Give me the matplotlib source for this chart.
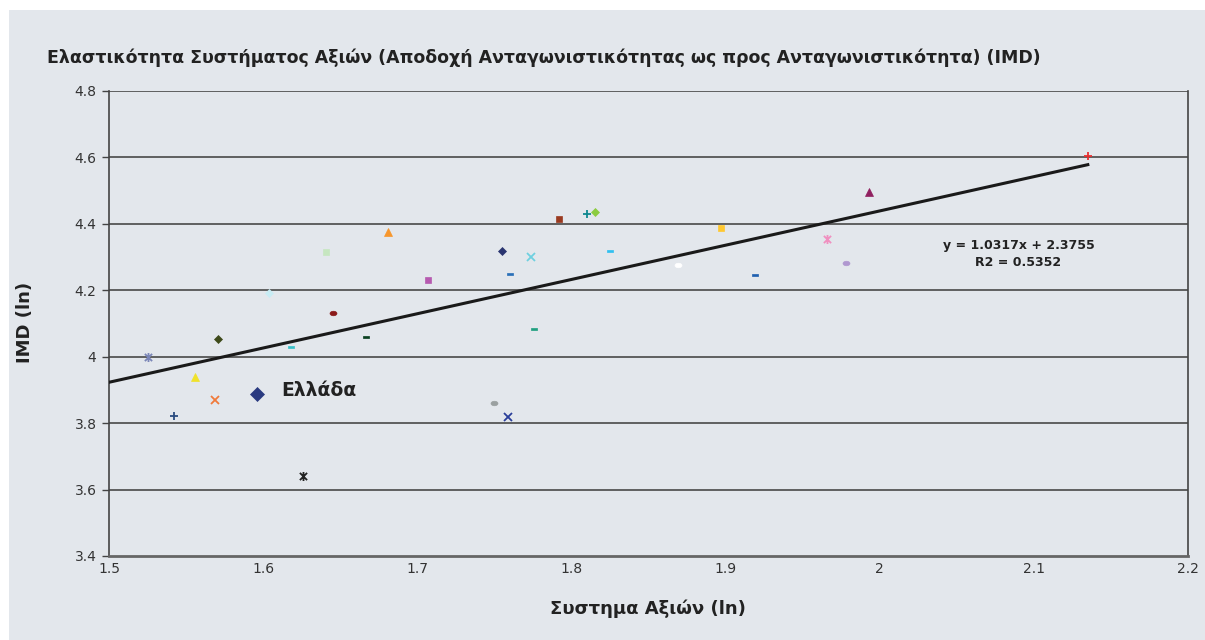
import matplotlib
matplotlib.use("Agg")
import matplotlib.pyplot as plt
import numpy as np
from matplotlib.path import Path

# ---- data ----
x_values = [1.525, 1.542, 1.556, 1.569, 1.571, 1.596, 1.604, 1.618, 1.626, 1.641,
            1.645, 1.667, 1.681, 1.707, 1.755, 1.750, 1.760, 1.759, 1.774, 1.776,
            1.792, 1.810, 1.815, 1.825, 1.869, 1.897, 1.919, 1.966, 1.978, 1.993,
            2.135]
y_values = [4.000, 3.822, 3.939, 3.870, 4.054, 3.888, 4.192, 4.030, 3.641, 4.316,
            4.132, 4.060, 4.376, 4.231, 4.319, 3.861, 4.249, 3.819, 4.301, 4.084,
            4.415, 4.430, 4.436, 4.319, 4.277, 4.388, 4.246, 4.355, 4.283, 4.496,
            4.605]
greece_index = 5
slope = 1.0317
intercept = 2.3755
r2 = 0.5352
x_ticks = [1.5, 1.6, 1.7, 1.8, 1.9, 2.0, 2.1, 2.2]
x_tick_labels = ["1.5", "1.6", "1.7", "1.8", "1.9", "2", "2.1", "2.2"]
y_ticks = [3.4, 3.6, 3.8, 4.0, 4.2, 4.4, 4.6, 4.8]
y_tick_labels = ["3.4", "3.6", "3.8", "4", "4.2", "4.4", "4.6", "4.8"]
title = "Ελαστικότητα Συστήματος Αξιών (Αποδοχή Ανταγωνιστικότητας ως προς Ανταγωνιστικότητα) (IMD)"
xlabel = "Συστημα Αξιών (ln)"
ylabel = "IMD (ln)"
greece_label = "Ελλάδα"

# ---- styles ----
dash = Path([(-1, -0.38), (1, -0.38), (1, 0.38), (-1, 0.38), (-1, -0.38)],
            [Path.MOVETO, Path.LINETO, Path.LINETO, Path.LINETO, Path.CLOSEPOLY])
t = np.linspace(0, 2 * np.pi, 40)
ell = Path(np.column_stack([np.cos(t), 0.65 * np.sin(t)]))
ast = Path([(-0.8, -0.8), (0.8, 0.8), (-0.8, 0.8), (0.8, -0.8), (0, -1), (0, 1)],
           [Path.MOVETO, Path.LINETO, Path.MOVETO, Path.LINETO, Path.MOVETO, Path.LINETO])
marker_styles = ['ast', '+', '^', 'x', 'D', 'D', 'D', 'dash', 'ast', 's',
                 'ell', 'dash', '^', 's', 'D', 'ell', 'dash', 'x', 'x', 'dash',
                 's', '+', 'D', 'dash', 'ell', 's', 'dash', 'ast', 'ell', '^',
                 '+']
marker_colors = ['#7b86b8', '#2b4c80', '#f0e22a', '#f07a3a', '#3e4a1a', '#2a3a80',
                 '#c8ecf4', '#38c0c8', '#222222', '#c6e6c0', '#8b1a1a', '#0a4020',
                 '#f7962c', '#b65ab0', '#2a3570', '#9aa0a0', '#2a70b8', '#2a3e9a',
                 '#6fd0e0', '#20a080', '#9a3a20', '#108890', '#8ccc40', '#30c0f0',
                 '#ffffff', '#ffc830', '#2060b0', '#f090c0', '#b098d0', '#902060',
                 '#e83030']
mk_map = {'ast': ast, 'dash': dash, 'ell': ell}
size_map = {'D': 4.3, '^': 6, '+': 5.5, 'x': 5.5, 'ast': 6.5}

bg = '#e3e7ec'
fig = plt.figure(figsize=(12.05, 6.4), dpi=100)
fig.patch.set_facecolor('white')
fig.add_artist(plt.Rectangle((9 / 1205, 0), 1 - 9 / 1205, 1 - 10 / 640,
                             transform=fig.transFigure, facecolor=bg,
                             edgecolor='none', zorder=-10))

L, R, T, B = 109, 1188, 91, 556
ax = fig.add_axes([L / 1205, 1 - B / 640, (R - L) / 1205, (B - T) / 640])
ax.set_facecolor(bg)
ax.set_xlim(1.5, 2.2)
ax.set_ylim(3.4, 4.8)
for yv in y_ticks[1:]:
    ax.axhline(yv, color='#555555', lw=1.3, zorder=1)
for s in ['left', 'right']:
    ax.spines[s].set_color('#444444')
    ax.spines[s].set_linewidth(1.2)
ax.spines['top'].set_visible(False)
ax.spines['bottom'].set_color('#666666')
ax.spines['bottom'].set_linewidth(2)

ax.set_xticks(x_ticks)
ax.set_xticklabels(x_tick_labels)
ax.set_yticks(y_ticks)
ax.set_yticklabels(y_tick_labels)
ax.tick_params(axis='x', length=0, pad=4, labelsize=10, colors='#333333')
ax.tick_params(axis='y', length=5, width=1, color='#444444', pad=4,
               labelsize=10, labelcolor='#333333')

for i, (xv, yv) in enumerate(zip(x_values, y_values)):
    m = marker_styles[i]
    mk = mk_map.get(m, m)
    size = size_map.get(m, 5)
    if i == greece_index:
        size = 7
    lines = m in ('+', 'x', 'ast')
    lw = 1.3 if lines else 0.5
    ax.plot([xv], [yv], linestyle='none', marker=mk, markersize=size,
            color=marker_colors[i], markeredgecolor=marker_colors[i],
            markerfacecolor='none' if m == 'ast' else marker_colors[i],
            markeredgewidth=lw, zorder=4)

xs = np.array([1.5, max(x_values)])
ax.plot(xs, slope * xs + intercept, color='#1a1a1a', lw=2.2, zorder=3)

ax.text(1.612, 3.898, greece_label, fontsize=13.5, fontweight='bold',
        color='#222222', va='center', ha='left', zorder=5)
ax.text(2.090, 4.310, f"y = {slope}x + {intercept}\nR2 = {r2}", fontsize=9,
        fontweight='bold', color='#222222', ha='center', va='center',
        linespacing=1.45, zorder=5)

fig.text(47 / 1205, 1 - 58 / 640, title, fontsize=12.5, fontweight='bold',
         color='#222222', ha='left', va='center')
fig.text(648 / 1205, 1 - 609 / 640, xlabel, fontsize=13, fontweight='bold',
         color='#222222', ha='center', va='center')
fig.text(25 / 1205, 1 - 322 / 640, ylabel, fontsize=13, fontweight='bold',
         color='#222222', ha='center', va='center', rotation=90)

fig.savefig('out.png', dpi=100, facecolor=fig.get_facecolor())
